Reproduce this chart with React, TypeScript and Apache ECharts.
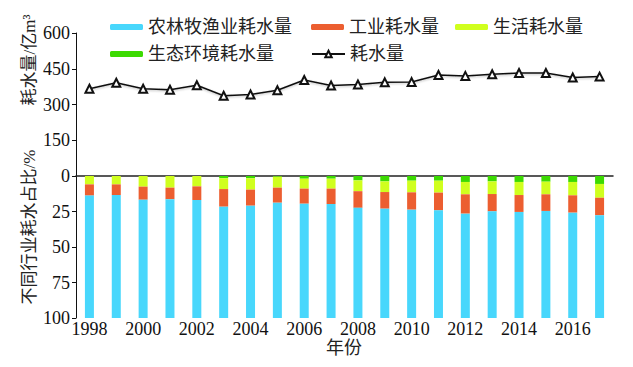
import React, { useEffect, useRef } from "react";
import * as echarts from "echarts";

const years = ["1998","1999","2000","2001","2002","2003","2004","2005","2006","2007","2008","2009","2010","2011","2012","2013","2014","2015","2016","2017"];
const totalUse = [366, 391, 366, 362, 381, 337, 342, 360, 403, 380, 384, 393, 394, 424, 420, 427, 432, 432, 413, 417];
const ecoPct = [0, 0, 0, 0, 0, 1.6, 1.6, 0.5, 1.9, 1.9, 3.1, 3.8, 3.3, 3.3, 4.2, 3.8, 4.2, 4.0, 4.2, 5.6];
const lifePct = [5.9, 5.9, 7.5, 8.2, 7.3, 7.6, 8.0, 7.7, 7.0, 7.0, 7.6, 7.5, 8.2, 8.4, 8.7, 8.9, 9.2, 8.9, 9.4, 9.7];
const industryPct = [7.9, 7.5, 9.2, 8.2, 9.6, 12.4, 11.3, 10.6, 10.6, 10.8, 11.7, 11.7, 12.2, 12.5, 13.6, 12.2, 11.9, 11.7, 12.2, 12.4];
const agriPct = [86.2, 86.6, 83.3, 83.6, 83.1, 78.4, 79.1, 81.2, 80.5, 80.3, 77.6, 77.0, 76.3, 75.8, 73.5, 75.1, 74.7, 75.4, 74.2, 72.3];
const topTicks = [0, 150, 300, 450, 600];
const bottomTicks = [0, 25, 50, 75, 100];

const serif = "'Liberation Serif', 'Times New Roman', serif";
const cjk = "'Liberation Serif', 'Noto Sans CJK SC', serif";

export default function App() {
  const ref = useRef<HTMLDivElement>(null);
  useEffect(() => {
    if (!ref.current) return;
    const chart = echarts.init(ref.current, undefined, { renderer: "svg" });
    const legendText = { fontFamily: cjk, fontSize: 18, color: "#222", lineHeight: 20 };
    const mkLegend = (name: string, left: number, top: number) => ({
      data: [name],
      left,
      top,
      itemWidth: 33,
      itemHeight: 6,
      textStyle: legendText,
      selectedMode: false,
    });
    const option: any = {
      animation: false,
      backgroundColor: "#fff",
      legend: [
        mkLegend("农林牧渔业耗水量", 105, 12),
        mkLegend("工业耗水量", 306, 12),
        mkLegend("生活耗水量", 450, 12),
        mkLegend("生态环境耗水量", 105, 39),
        { ...mkLegend("耗水量", 306, 39), itemHeight: 8 },
      ],
      grid: [
        { left: 76, right: 20, top: 33, height: 143 },
        { left: 76, right: 20, top: 176, height: 142 },
      ],
      xAxis: [
        {
          type: "category",
          gridIndex: 0,
          data: years,
          boundaryGap: true,
          axisLine: { show: true, lineStyle: { color: "#222", width: 1.5 } },
          axisTick: { show: false },
          axisLabel: { show: false },
          splitLine: { show: false },
        },
        {
          type: "category",
          gridIndex: 1,
          data: years,
          boundaryGap: true,
          axisLine: { show: false },
          axisTick: { show: false },
          axisLabel: { interval: 1, fontFamily: serif, fontSize: 18, color: "#111", margin: 2 },
          splitLine: { show: false },
        },
      ],
      yAxis: [
        {
          type: "value",
          gridIndex: 0,
          min: topTicks[0],
          max: topTicks[topTicks.length - 1],
          interval: 150,
          axisLine: { show: true, lineStyle: { color: "#111" } },
          axisTick: { show: true, length: 4, lineStyle: { color: "#111" } },
          axisLabel: { showMinLabel: false, fontFamily: serif, fontSize: 18, color: "#111", margin: 6 },
          splitLine: { show: false },
        },
        {
          type: "value",
          gridIndex: 1,
          inverse: true,
          min: bottomTicks[0],
          max: bottomTicks[bottomTicks.length - 1],
          interval: 25,
          axisLine: { show: true, lineStyle: { color: "#111" } },
          axisTick: { show: true, length: 4, lineStyle: { color: "#111" } },
          axisLabel: { fontFamily: serif, fontSize: 18, color: "#111", margin: 6 },
          splitLine: { show: false },
        },
      ],
      graphic: [
        {
          type: "text",
          x: 29,
          y: 60,
          rotation: Math.PI / 2,
          style: {
            text: "耗水量/亿m³",
            fontFamily: cjk,
            fontSize: 17,
            fill: "#222",
            align: "center",
            verticalAlign: "middle",
          },
        },
        {
          type: "text",
          x: 29,
          y: 227,
          rotation: Math.PI / 2,
          style: {
            text: "不同行业耗水占比/%",
            fontFamily: cjk,
            fontSize: 17,
            fill: "#222",
            align: "center",
            verticalAlign: "middle",
          },
        },
        {
          type: "text",
          x: 344,
          y: 348,
          style: {
            text: "年份",
            fontFamily: cjk,
            fontSize: 18,
            fill: "#222",
            align: "center",
            verticalAlign: "middle",
          },
        },
      ],
      series: [
        {
          name: "生态环境耗水量",
          type: "bar",
          xAxisIndex: 1,
          yAxisIndex: 1,
          stack: "pct",
          barWidth: 9,
          data: ecoPct,
          itemStyle: { color: "#3CDA02" },
        },
        {
          name: "生活耗水量",
          type: "bar",
          xAxisIndex: 1,
          yAxisIndex: 1,
          stack: "pct",
          barWidth: 9,
          data: lifePct,
          itemStyle: { color: "#D0FF1E" },
        },
        {
          name: "工业耗水量",
          type: "bar",
          xAxisIndex: 1,
          yAxisIndex: 1,
          stack: "pct",
          barWidth: 9,
          data: industryPct,
          itemStyle: { color: "#EC5E30" },
        },
        {
          name: "农林牧渔业耗水量",
          type: "bar",
          xAxisIndex: 1,
          yAxisIndex: 1,
          stack: "pct",
          barWidth: 9,
          data: agriPct,
          itemStyle: { color: "#48D7FC" },
        },
        {
          name: "耗水量",
          type: "line",
          xAxisIndex: 0,
          yAxisIndex: 0,
          data: totalUse,
          symbol: "triangle",
          symbolSize: 8,
          lineStyle: { color: "#111", width: 1.5, shadowColor: "rgba(0,0,0,0.25)", shadowBlur: 2, shadowOffsetY: 1 },
          itemStyle: { color: "#fff", borderColor: "#111", borderWidth: 2 },
        },
      ],
    };
    chart.setOption(option);
    return () => chart.dispose();
  }, []);
  return (
    <div
      ref={ref}
      style={{ position: "absolute", left: 0, top: 0, width: 633, height: 367 }}
    />
  );
}
